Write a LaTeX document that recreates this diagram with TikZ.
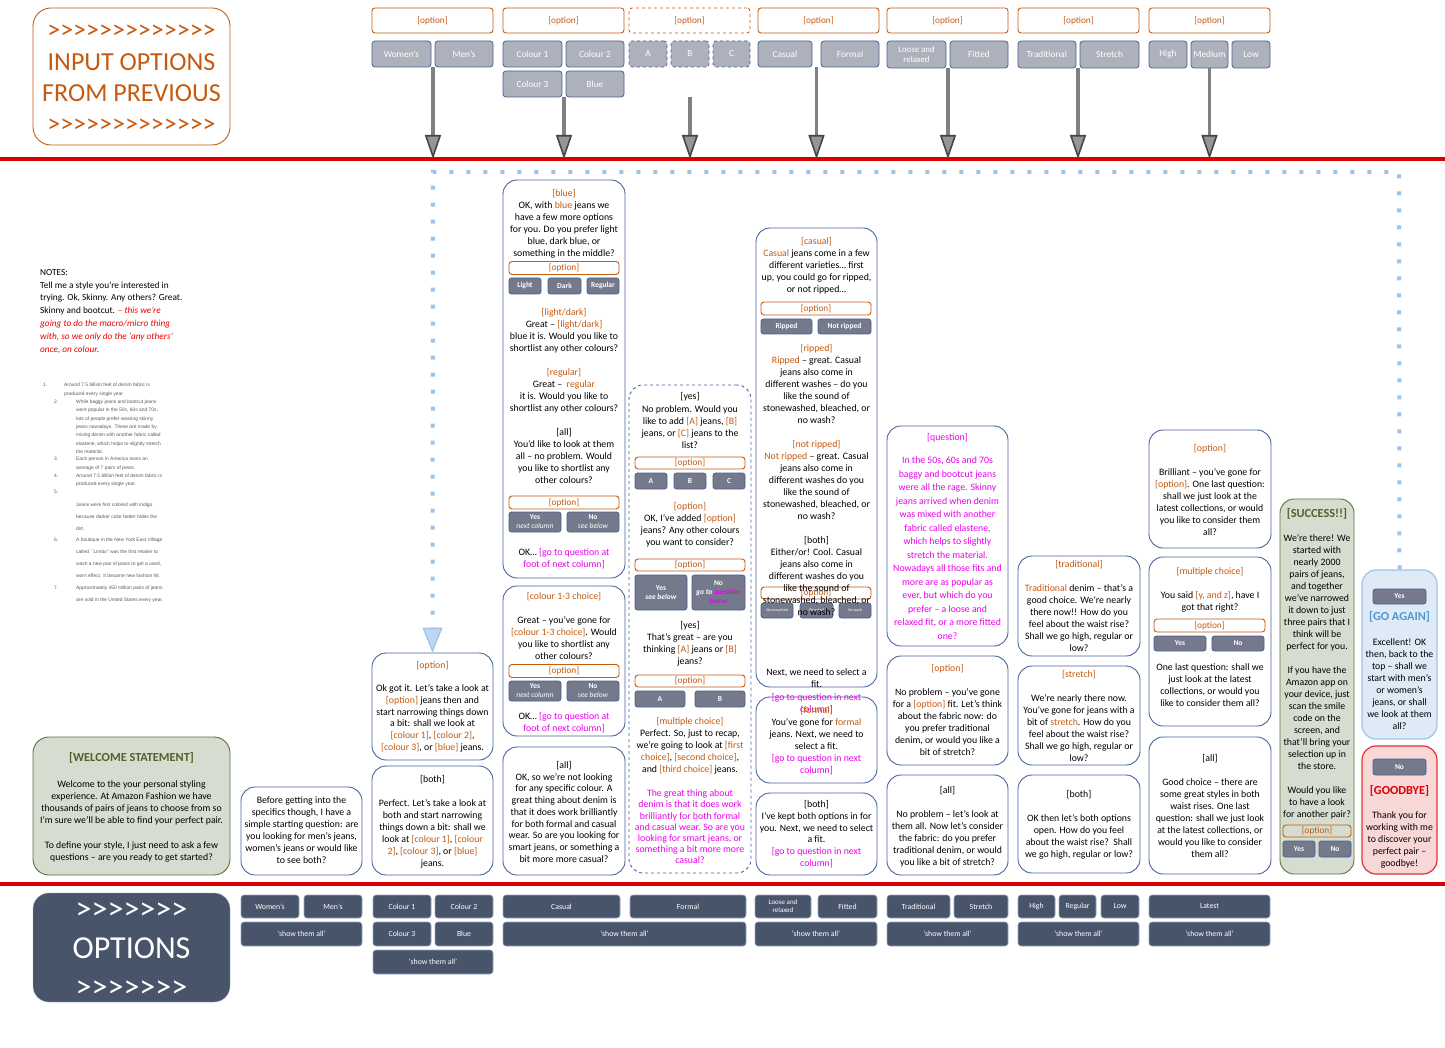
\documentclass[tikz,border=0pt]{standalone}
\usepackage{fontspec}
\setmainfont{Carlito}
\newfontfamily\listfont{Liberation Sans}
\usetikzlibrary{arrows.meta,positioning,fit,calc}
\definecolor{optorange}{RGB}{197,90,17}
\definecolor{qmag}{RGB}{235,0,235}
\definecolor{cardblue}{RGB}{72,98,160}
\definecolor{btnlight}{RGB}{172,177,188}
\definecolor{btnedge}{RGB}{78,96,145}
\definecolor{btndark}{RGB}{116,122,140}
\definecolor{slate}{RGB}{72,84,106}
\definecolor{slateedge}{RGB}{150,165,195}
\definecolor{welfill}{RGB}{214,220,207}
\definecolor{weledge}{RGB}{90,115,55}
\definecolor{weltext}{RGB}{79,98,40}
\definecolor{gofill}{RGB}{222,235,247}
\definecolor{goedge}{RGB}{157,195,230}
\definecolor{gotext}{RGB}{80,150,215}
\definecolor{byefill}{RGB}{248,215,215}
\definecolor{byeedge}{RGB}{225,50,50}
\definecolor{linered}{RGB}{220,0,0}
\definecolor{notered}{RGB}{230,0,0}
\definecolor{dotblue}{RGB}{157,195,230}
\definecolor{headblue}{RGB}{190,215,240}
\definecolor{arrowgray}{RGB}{128,128,128}
\definecolor{headgray}{RGB}{150,150,150}
\definecolor{headedge}{RGB}{70,70,70}
\definecolor{listgray}{RGB}{90,90,90}
\newcommand{\fcard}{\fontsize{9.8}{12}\selectfont}
\newcommand{\fopt}{\fontsize{9.3}{11}\selectfont}
\newcommand{\ftop}{\fontsize{9.3}{10.5}\selectfont}
\newcommand{\fbtn}{\fontsize{7.5}{9}\selectfont}
\newcommand{\fbot}{\fontsize{7.8}{9}\selectfont}
\newcommand{\flist}{\listfont\fontsize{4.9}{8.3}\selectfont}
\newcommand{\fbig}{\fontsize{26}{31.3}\selectfont}
\newcommand{\fhuge}{\fontsize{32}{39}\selectfont}
\newcommand{\ftitle}{\fontsize{12.3}{14}\selectfont\bfseries}
\newcommand{\orn}[1]{\textcolor{optorange}{#1}}
\newcommand{\mgn}[1]{\textcolor{qmag}{#1}}
\newcommand{\gtk}{>\kern0pt}
\begin{document}
\begin{tikzpicture}[x=1pt, y=-1pt, font=\fcard,
sz/.style 2 args={minimum width=#1, minimum height=#2},
card/.style={draw=cardblue, fill=white, rounded corners=14pt, line width=0.9pt, inner sep=0pt},
optbox/.style={draw=optorange, rounded corners=3pt, line width=0.9pt, inner sep=0pt, text=optorange, font=\fopt},
inbtn/.style={draw=btnedge, fill=btndark, rounded corners=2.5pt, line width=0.8pt, inner sep=0pt, text=white, align=center, font=\fbtn\bfseries},
topbtn/.style={draw=btnedge, fill=btnlight, rounded corners=3pt, line width=0.8pt, inner sep=0pt, text=white, align=center, font=\ftop},
botbtn/.style={draw=slateedge, fill=slate, rounded corners=3pt, line width=0.6pt, inner sep=0pt, text=white, align=center, font=\fbot},
txt/.style={align=center, inner sep=0pt, anchor=north},
listtxt/.style={align=left, inner sep=0pt, anchor=north west, text=listgray, font=\flist},
garrow/.style={draw=arrowgray, line width=3.5pt, -{Triangle[length=24pt, width=16pt, fill=headgray, color=headedge, line width=1.6pt]}},
dots/.style={draw=dotblue, line width=4pt, dash pattern=on 4pt off 13pt},
bluetip/.style={-{Triangle[length=25pt, width=20pt, fill=headblue, color=dotblue, line width=1.2pt]}},
redline/.style={draw=linered, line width=3.5pt}]
\useasboundingbox (0,0) rectangle (1445,1048);

% input options
\node[draw=optorange, line width=0.9pt, rounded corners=18pt, inner sep=0pt, fit={(33,8) (230,145)}] (inbox) {};
\node[text=optorange, font=\fbig, align=center, inner sep=0pt] (intxt) at (131.5,79) {\gtk\gtk\gtk\gtk\gtk\gtk\gtk\gtk\gtk\gtk\gtk\gtk\gtk\\INPUT OPTIONS\\FROM PREVIOUS\\\gtk\gtk\gtk\gtk\gtk\gtk\gtk\gtk\gtk\gtk\gtk\gtk\gtk};

\node[optbox, sz={121}{25}] (o1) at (432.5,20.5) {[option]};
\node[topbtn, sz={59}{26}] (wom) at (401.5,54) {Women's};
\node[topbtn, sz={58}{26}] (men) at (464,54) {Men's};
\node[optbox, sz={121}{25}] (o2) at (563.5,20.5) {[option]};
\node[topbtn, sz={59}{26}] (col1) at (532.5,54) {Colour 1};
\node[topbtn, sz={58}{26}] (col2) at (595,54) {Colour 2};
\node[topbtn, sz={59}{26}] (col3) at (532.5,84) {Colour 3};
\node[topbtn, sz={58}{26}] (blu) at (595,84) {Blue};
\node[optbox, dashed, sz={121}{25}] (o3) at (689.5,20.5) {[option]};
\node[topbtn, dashed, sz={38}{26}] (ta) at (648,54) {A};
\node[topbtn, dashed, sz={38}{26}] (tb) at (690,54) {B};
\node[topbtn, dashed, sz={37}{26}] (tc) at (731.5,54) {C};
\node[optbox, sz={121}{25}] (o4) at (818.5,20.5) {[option]};
\node[topbtn, sz={54}{26}] (cas) at (785,54) {Casual};
\node[topbtn, sz={58}{26}] (frm) at (850,54) {Formal};
\node[optbox, sz={121}{25}] (o5) at (947.5,20.5) {[option]};
\node[topbtn, sz={59}{27}, font=\fontsize{8.8}{10}\selectfont] (lse) at (916.5,54.5) {Loose and\\relaxed};
\node[topbtn, sz={58}{27}] (ftd) at (979,54.5) {Fitted};
\node[optbox, sz={121}{25}] (o6) at (1078.5,20.5) {[option]};
\node[topbtn, sz={58}{27}] (trd) at (1047,54.5) {Traditional};
\node[topbtn, sz={59}{27}] (strt) at (1109.5,54.5) {Stretch};
\node[optbox, sz={121}{25}] (o7) at (1209.5,20.5) {[option]};
\node[topbtn, sz={38}{27}] (hig) at (1168,54.5) {High};
\node[topbtn, sz={37}{27}] (med) at (1209.5,54.5) {Medium};
\node[topbtn, sz={38}{27}] (lw) at (1251,54.5) {Low};

% red lines and arrows
\coordinate (rl0) at (0,159);
\coordinate (rl1) at (1445,159);
\coordinate (rb0) at (0,884);
\coordinate (rb1) at (1445,884);
\draw[redline] (rl0) -- (rl1);
\draw[redline] (rb0) -- (rb1);
\coordinate (s1) at ($(wom.south east)!.5!(men.south west)$);
\coordinate (s2) at ($(col3.south east)!.5!(blu.south west)$);
\coordinate (s3) at ([yshift=-30pt]tb.south);
\coordinate (s4) at ($(cas.south east)!.5!(frm.south west)$);
\coordinate (s5) at ($(lse.south east)!.5!(ftd.south west)$);
\coordinate (s6) at ($(trd.south east)!.5!(strt.south west)$);
\coordinate (s7) at (med.south);
\foreach \s in {s1,s2,s3,s4,s5,s6,s7}
  \draw[garrow] (\s) -- (\s |- rl0);

% notes
\node[align=left, inner sep=0pt, anchor=north west, font=\fontsize{9.3}{12.8}\selectfont] (notes) at (40,269) {NOTES:\\Tell me a style you're interested in\\trying. Ok, Skinny. Any others? Great.\\Skinny and bootcut. \textcolor{notered}{\itshape -- this we're}\\\textcolor{notered}{\itshape going to do the macro/micro thing}\\\textcolor{notered}{\itshape with, so we only do the `any others'}\\\textcolor{notered}{\itshape once, on colour.}};
\node[listtxt] (n1) at (43,383.2) {1.};
\node[listtxt] (l1) at (64,383.2) {Around 7.5 billion feet of denim fabric is\\produced every single year.};
\node[listtxt] (n2) at (54,399.8) {2.};
\node[listtxt] (l2) at (76,399.8) {While baggy jeans and bootcut jeans\\were popular in the 50s, 60s and 70s,\\lots of people prefer wearing skinny\\jeans nowadays. These are made by\\mixing denim with another fabric called\\elastene, which helps to slightly stretch\\the material.};
\node[listtxt] (n3) at (54,457.2) {3.};
\node[listtxt] (l3) at (76,457.2) {Each person in America owns an\\average of 7 pairs of jeans.};
\node[listtxt] (n4) at (54,473.8) {4.};
\node[listtxt] (l4) at (76,473.8) {Around 7.5 billion feet of denim fabric is\\produced every single year.};
\node[listtxt] (n5) at (54,490.2) {5.};
\node[listtxt, font=\listfont\fontsize{4.9}{11.9}\selectfont] (l5) at (76,502.5) {Jeans were first colored with indigo\\because darker color better hides the\\dirt.};
\node[listtxt] (n6) at (54,537.8) {6.};
\node[listtxt, font=\listfont\fontsize{4.9}{12}\selectfont] (l6) at (76,537.8) {A boutique in the New York East Village\\called ``Limbo'' was the first retailer to\\wash a new pair of jeans to get a used,\\worn effect. It became new fashion hit.};
\node[listtxt] (n7) at (54,586.2) {7.};
\node[listtxt, font=\listfont\fontsize{4.9}{12}\selectfont] (l7) at (76,586.2) {Approximately 450 million pairs of jeans\\are sold in the United States every year.};

% cards
\node[draw=weledge, fill=welfill, rounded corners=16pt, line width=0.9pt, inner sep=0pt, fit={(33,737) (230,875)}] (wel) {};
\node[text=weltext, font=\ftitle, inner sep=0pt] (welt) at (131.5,758) {[WELCOME STATEMENT]};
\node[txt, font=\fontsize{9.8}{12.2}\selectfont] (welb) at (131.5,780) {Welcome to the your personal styling\\experience. At Amazon Fashion we have\\thousands of pairs of jeans to choose from so\\I'm sure we'll be able to find your perfect pair.\\[12.2pt]To define your style, I just need to ask a few\\questions -- are you ready to get started?};

\node[card, fit={(241,787) (362,875)}] (start) {};
\node[txt] (startt) at (301.5,796.7) {Before getting into the\\specifics though, I have a\\simple starting question: are\\you looking for men's jeans,\\women's jeans or would like\\to see both?};

\node[card, fit={(372,653) (493,760)}] (c3a) {};
\node[txt, font=\fontsize{9.8}{11.7}\selectfont] (c3at) at (432.5,661) {\orn{[option]}\\[11.7pt]Ok got it. Let's take a look at\\\orn{[option]} jeans then and\\start narrowing things down\\a bit: shall we look at\\\orn{[colour 1]}, \orn{[colour 2]},\\\orn{[colour 3]}, or \orn{[blue]} jeans.};
\node[card, fit={(372,766) (493,875)}] (c3b) {};
\node[txt] (c3bt) at (432.5,775) {{[both]}\\[12pt]Perfect. Let's take a look at\\both and start narrowing\\things down a bit: shall we\\look at \orn{[colour 1]}, \orn{[colour}\\\orn{2]}, \orn{[colour 3]}, or \orn{[blue]}\\jeans.};

\node[card, fit={(503,180) (625,578)}] (c4a) {};
\node[txt] (c4at) at (564,189) {\orn{[blue]}\\OK, with \orn{blue} jeans we\\have a few more options\\for you. Do you prefer light\\blue, dark blue, or\\something in the middle?};
\node[optbox, sz={110}{13}] (c4ao) at (564,268) {[option]};
\node[inbtn, sz={32}{16}] (lgt) at (525,286) {Light};
\node[inbtn, sz={33}{16}] (drk) at (564.5,286) {Dark};
\node[inbtn, sz={32}{16}] (reg) at (603,286) {Regular};
\node[txt] (c4au) at (564,308) {\orn{[light/dark]}\\Great -- \orn{[light/dark]}\\blue it is. Would you like to\\shortlist any other colours?\\[12pt]\orn{[regular]}\\Great --\ \ \orn{regular}\\it is. Would you like to\\shortlist any other colours?\\[12pt]{[all]}\\You'd like to look at them\\all -- no problem. Would\\you like to shortlist any\\other colours?};
\node[optbox, sz={110}{13}] (c4ap) at (564,502.5) {[option]};
\node[inbtn, sz={52}{20}] (c4ay) at (535,522) {Yes\\\textit{\mdseries next column}};
\node[inbtn, sz={52}{20}] (c4an) at (593,522) {No\\\textit{\mdseries see below}};
\node[txt] (c4aw) at (564,548) {OK… \mgn{[go to question at}\\\mgn{foot of next column]}};

\node[card, fit={(503,586) (625,736)}] (c4b) {};
\node[txt] (c4bt) at (564,592) {\orn{[colour 1-3 choice]}\\[12pt]Great -- you've gone for\\\orn{[colour 1-3 choice]}. Would\\you like to shortlist any\\other colours?};
\node[optbox, sz={110}{13}] (c4bo) at (564,671) {[option]};
\node[inbtn, sz={52}{20}] (c4by) at (535,691) {Yes\\\textit{\mdseries next column}};
\node[inbtn, sz={52}{20}] (c4bn) at (593,691) {No\\\textit{\mdseries see below}};
\node[txt] (c4bw) at (564,712) {OK… \mgn{[go to question at}\\\mgn{foot of next column]}};

\node[card, fit={(503,747) (625,875)}] (c4c) {};
\node[txt, font=\fontsize{9.8}{11.75}\selectfont] (c4ct) at (564,761) {{[all]}\\OK, so we're not looking\\for any specific colour. A\\great thing about denim is\\that it does work brilliantly\\for both formal and casual\\wear. So are you looking for\\smart jeans, or something a\\bit more more casual?};

\node[card, dashed, fit={(629,385) (751,873)}] (c5) {};
\node[txt, font=\fontsize{9.8}{12.2}\selectfont] (c5t1) at (690,392.7) {{[yes]}\\No problem. Would you\\like to add \orn{[A]} jeans, \orn{[B]}\\jeans, or \orn{[C]} jeans to the\\list?};
\node[optbox, sz={110}{12}] (c5o1) at (690,463) {[option]};
\node[inbtn, sz={32}{16}] (c5a) at (651,481) {A};
\node[inbtn, sz={32}{16}] (c5b) at (690,481) {B};
\node[inbtn, sz={32}{16}] (c5c) at (729,481) {C};
\node[txt] (c5t2) at (690,502) {\orn{[option]}\\OK, I've added \orn{[option]}\\jeans? Any other colours\\you want to consider?};
\node[optbox, sz={110}{12}] (c5o2) at (690,565) {[option]};
\node[inbtn, sz={52}{35}] (c5y) at (661,592.5) {Yes\\\textit{see below}};
\node[inbtn, sz={53}{35}] (c5n) at (718.5,592.5) {No\\\textit{go to \mgn{question}}\\\textit{\mgn{below}}};
\node[txt] (c5t3) at (690,621.3) {{[yes]}\\That's great -- are you\\thinking \orn{[A]} jeans or \orn{[B]}\\jeans?};
\node[optbox, sz={110}{12}] (c5o3) at (690,681) {[option]};
\node[inbtn, sz={50}{16}] (c5a2) at (660,699) {A};
\node[inbtn, sz={50}{16}] (c5b2) at (720,699) {B};
\node[txt] (c5t4) at (690,717.7) {\orn{[multiple choice]}\\Perfect. So, just to recap,\\we're going to look at \orn{[first}\\\orn{choice]}, \orn{[second choice]},\\and \orn{[third choice]} jeans.};
\node[txt, text=qmag, font=\fontsize{9.8}{11.2}\selectfont] (c5t5) at (690,789.7) {The great thing about\\denim is that it does work\\brilliantly for both formal\\and casual wear. So are you\\looking for smart jeans, or\\something a bit more more\\casual?};

\node[card, fit={(756,228) (877,687)}] (c6a) {};
\node[card, fit={(756,697) (877,783)}] (c6b) {};
\node[card, fit={(756,793) (877,875)}] (c6c) {};
\node[txt] (c6at) at (816.5,237) {\orn{[casual]}\\\orn{Casual} jeans come in a few\\different varieties… first\\up, you could go for ripped,\\or not ripped…};
\node[optbox, sz={110}{13}] (c6ao) at (816,308.5) {[option]};
\node[inbtn, sz={51}{15}] (rip) at (786.5,326.5) {Ripped};
\node[inbtn, sz={53}{15}] (nrip) at (844.5,326.5) {Not ripped};
\node[optbox, sz={110}{12}] (c6ap) at (816,593) {[option]};
\node[inbtn, sz={32}{15}, font=\fontsize{4}{5}\selectfont] (stw) at (777,610.5) {Stonewashed};
\node[inbtn, sz={33}{15}, font=\fontsize{4}{5}\selectfont] (blc) at (816.5,610.5) {Bleached};
\node[inbtn, sz={32}{15}, font=\fontsize{4}{5}\selectfont] (nws) at (855,610.5) {No wash};
\node[txt] (c6au) at (816.5,344.7) {\orn{[ripped]}\\\orn{Ripped} -- great. Casual\\jeans also come in\\different washes -- do you\\like the sound of\\stonewashed, bleached, or\\no wash?\\[12pt]\orn{[not ripped]}\\\orn{Not ripped} -- great. Casual\\jeans also come in\\different washes do you\\like the sound of\\stonewashed, bleached, or\\no wash?\\[12pt]{[both]}\\Either/or! Cool. Casual\\jeans also come in\\different washes do you\\like the sound of\\stonewashed, bleached, or\\no wash?};
\node[txt, font=\fontsize{9.8}{12.2}\selectfont] (c6aw) at (816.5,668.7) {Next, we need to select a\\fit.\\\mgn{[go to question in next}\\\mgn{column]}};
\node[txt] (c6bt) at (816.5,706.7) {\orn{[formal]}\\You've gone for \orn{formal}\\jeans. Next, we need to\\select a fit.\\\mgn{[go to question in next}\\\mgn{column]}};
\node[txt, font=\fontsize{9.8}{11.9}\selectfont] (c6ct) at (816.5,800) {{[both]}\\I've kept both options in for\\you. Next, we need to select\\a fit.\\\mgn{[go to question in next}\\\mgn{column]}};

\node[card, fit={(887,426) (1008,646)}] (c7a) {};
\node[txt, text=qmag, font=\fontsize{9.8}{13.5}\selectfont] (c7at) at (947.5,433) {[question]\\[10.2pt]In the 50s, 60s and 70s\\baggy and bootcut jeans\\were all the rage. Skinny\\jeans arrived when denim\\was mixed with another\\fabric called elastene,\\which helps to slightly\\stretch the material.\\Nowadays all those fits and\\more are as popular as\\ever, but which do you\\prefer -- a loose and\\relaxed fit, or a more fitted\\one?};
\node[card, fit={(887,656) (1008,765)}] (c7b) {};
\node[txt] (c7bt) at (947.5,664.7) {\orn{[option]}\\[12pt]No problem -- you've gone\\for a \orn{[option]} fit. Let's think\\about the fabric now: do\\you prefer traditional\\denim, or would you like a\\bit of stretch?};
\node[card, fit={(887,775) (1008,875)}] (c7c) {};
\node[txt] (c7ct) at (947.5,786) {{[all]}\\[12pt]No problem -- let's look at\\them all. Now let's consider\\the fabric: do you prefer\\traditional denim, or would\\you like a bit of stretch?};

\node[card, fit={(1018,556) (1140,656)}] (c8a) {};
\node[txt] (c8at) at (1079,560.7) {\orn{[traditional]}\\[12pt]\orn{Traditional} denim -- that's a\\good choice. We're nearly\\there now!! How do you\\feel about the waist rise?\\Shall we go high, regular or\\low?};
\node[card, fit={(1018,666) (1140,765)}] (c8b) {};
\node[txt] (c8bt) at (1079,670) {\orn{[stretch]}\\[12pt]We're nearly there now.\\You've gone for jeans with a\\bit of \orn{stretch}. How do you\\feel about the waist rise?\\Shall we go high, regular or\\low?};
\node[card, fit={(1018,775) (1140,873)}] (c8c) {};
\node[txt] (c8ct) at (1079,790.7) {{[both]}\\[12pt]OK then let's both options\\open. How do you feel\\about the waist rise?\ \ Shall\\we go high, regular or low?};

\node[card, fit={(1149,430) (1271,548)}] (c9a) {};
\node[txt] (c9at) at (1210,444) {\orn{[option]}\\[12pt]Brilliant -- you've gone for\\\orn{[option]}. One last question:\\shall we just look at the\\latest collections, or would\\you like to consider them\\all?};
\node[card, fit={(1149,557) (1271,726)}] (c9b) {};
\node[txt] (c9bt) at (1210,567) {\orn{[multiple choice]}\\[12pt]You said \orn{[y, and z]}, have I\\got that right?};
\node[optbox, sz={111}{13}] (c9bo) at (1209.5,625.5) {[option]};
\node[inbtn, sz={52}{15}] (c9by) at (1180,643.5) {Yes};
\node[inbtn, sz={52}{15}] (c9bn) at (1238,643.5) {No};
\node[txt] (c9bu) at (1210,663) {One last question: shall we\\just look at the latest\\collections, or would you\\like to consider them all?};
\node[card, fit={(1149,737) (1271,874)}] (c9c) {};
\node[txt] (c9ct) at (1210,754) {{[all]}\\[12pt]Good choice -- there are\\some great styles in both\\waist rises. One last\\question: shall we just look\\at the latest collections, or\\would you like to consider\\them all?};

\node[draw=weledge, fill=welfill, rounded corners=14pt, line width=0.9pt, inner sep=0pt, fit={(1280,499) (1354,874)}] (succ) {};
\node[text=weltext, font=\ftitle, inner sep=0pt] (succt) at (1317,514) {[SUCCESS!!]};
\node[txt] (succb) at (1317,534.7) {We're there! We\\started with\\nearly 2000\\pairs of jeans,\\and together\\we've narrowed\\it down to just\\three pairs that I\\think will be\\perfect for you.\\[12pt]If you have the\\Amazon app on\\your device, just\\scan the smile\\code on the\\screen, and\\that'll bring your\\selection up in\\the store.\\[12pt]Would you like\\to have a look\\for another pair?};
\node[optbox, sz={68}{12}] (succo) at (1317,831) {[option]};
\node[inbtn, sz={32}{16}] (succy) at (1299,849) {Yes};
\node[inbtn, sz={32}{16}] (succn) at (1335,849) {No};

\node[draw=goedge, fill=gofill, rounded corners=14pt, line width=1.2pt, inner sep=0pt, fit={(1362,570) (1437,739)}] (go) {};
\node[inbtn, sz={53}{15}] (goy) at (1399.5,596.5) {Yes};
\node[text=gotext, font=\ftitle, inner sep=0pt] (got) at (1399.5,616.7) {[GO AGAIN]};
\node[txt] (gob) at (1399.5,638.3) {Excellent! OK\\then, back to the\\top -- shall we\\start with men's\\or women's\\jeans, or shall\\we look at them\\all?};
\node[draw=byeedge, fill=byefill, rounded corners=14pt, line width=1.2pt, inner sep=0pt, fit={(1362,746) (1437,874)}] (bye) {};
\node[inbtn, sz={53}{16}] (byen) at (1399.5,767) {No};
\node[text=linered, font=\ftitle, inner sep=0pt] (byet) at (1399.5,790.7) {[GOODBYE]};
\node[txt] (byeb) at (1399.5,811.7) {Thank you for\\working with me\\to discover your\\perfect pair --\\goodbye!};

% loop back
\coordinate (dtl) at (433,172);
\coordinate (dtr) at (1399,172);
\draw[dots, bluetip] (go.north) -- (dtr) -- (dtl) -- (c3a.north);

% options
\node[fill=slate, draw=slateedge, rounded corners=16pt, inner sep=0pt, fit={(33,893) (230,1002)}] (opbox) {};
\node[text=white, font=\fhuge, align=center, inner sep=0pt] (optxt) at (131.5,950) {\gtk\gtk\gtk\gtk\gtk\gtk\gtk\\OPTIONS\\\gtk\gtk\gtk\gtk\gtk\gtk\gtk};
\node[botbtn, sz={58}{23}] (bwom) at (270,906.5) {Women's};
\node[botbtn, sz={58}{23}] (bmen) at (333,906.5) {Men's};
\node[botbtn, sz={121}{24}] (ball1) at (301.5,934) {`show them all'};
\node[botbtn, sz={58}{23}] (bc1) at (402,906.5) {Colour 1};
\node[botbtn, sz={58}{23}] (bc2) at (464,906.5) {Colour 2};
\node[botbtn, sz={58}{24}] (bc3) at (402,934) {Colour 3};
\node[botbtn, sz={58}{24}] (bblu) at (464,934) {Blue};
\node[botbtn, sz={120}{24}] (ball2) at (433,962) {`show them all'};
\node[botbtn, sz={117}{23}] (bcas) at (561.5,906.5) {Casual};
\node[botbtn, sz={116}{23}] (bfrm) at (688,906.5) {Formal};
\node[botbtn, sz={243}{24}] (ball3) at (624.5,934) {`show them all'};
\node[botbtn, sz={56}{23}, font=\fontsize{7}{8}\selectfont] (blse) at (783,906.5) {Loose and\\relaxed};
\node[botbtn, sz={59}{23}] (bftd) at (847.5,906.5) {Fitted};
\node[botbtn, sz={122}{24}] (ball4) at (816,934) {`show them all'};
\node[botbtn, sz={63}{23}] (btrd) at (918.5,906.5) {Traditional};
\node[botbtn, sz={54}{23}] (bstr) at (981,906.5) {Stretch};
\node[botbtn, sz={121}{24}] (ball5) at (947.5,934) {`show them all'};
\node[botbtn, sz={37}{23}] (bhig) at (1036.5,906.5) {High};
\node[botbtn, sz={37}{23}] (breg) at (1077.5,906.5) {Regular};
\node[botbtn, sz={38}{23}] (blow) at (1120,906.5) {Low};
\node[botbtn, sz={121}{24}] (ball6) at (1078.5,934) {`show them all'};
\node[botbtn, sz={121}{23}] (blat) at (1209.5,906.5) {Latest};
\node[botbtn, sz={121}{24}] (ball7) at (1209.5,934) {`show them all'};
\end{tikzpicture}
\end{document}
